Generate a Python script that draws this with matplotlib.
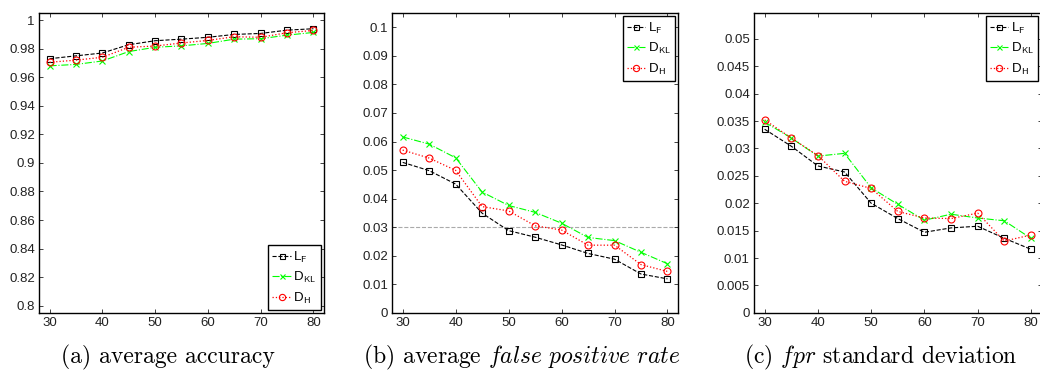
import matplotlib
matplotlib.use('Agg')
import matplotlib.pyplot as plt
from matplotlib.ticker import FuncFormatter

plt.rcParams['font.family'] = ['Liberation Sans', 'DejaVu Sans']
plt.rcParams['mathtext.fontset'] = 'cm'
plt.rcParams['font.size'] = 9

# sample sizes on the x axis
sizes = [30, 35, 40, 45, 50, 55, 60, 65, 70, 75, 80]

# (a) average accuracy
acc_lf = [0.973, 0.975, 0.977, 0.9828, 0.9856, 0.9867, 0.988, 0.990, 0.9907, 0.993, 0.994]
acc_dkl = [0.968, 0.969, 0.9714, 0.978, 0.981, 0.982, 0.9837, 0.9867, 0.987, 0.9895, 0.9914]
acc_dh = [0.9705, 0.972, 0.974, 0.981, 0.9819, 0.984, 0.9858, 0.9884, 0.988, 0.9912, 0.9928]

# (b) average false positive rate
fpr_lf = [0.0527, 0.0498, 0.0451, 0.0349, 0.0288, 0.0265, 0.0238, 0.0208, 0.0188, 0.0136, 0.0119]
fpr_dkl = [0.0616, 0.0591, 0.0543, 0.0423, 0.0376, 0.0352, 0.0314, 0.0264, 0.0253, 0.0212, 0.0172]
fpr_dh = [0.057, 0.0542, 0.0499, 0.0372, 0.0357, 0.0305, 0.029, 0.0237, 0.0237, 0.0169, 0.0145]
fpr_ref = 0.03

# (c) fpr standard deviation
std_lf = [0.0335, 0.0304, 0.0268, 0.0257, 0.0200, 0.0172, 0.0147, 0.0155, 0.0158, 0.0136, 0.0116]
std_dkl = [0.0348, 0.0319, 0.0286, 0.0291, 0.0228, 0.0198, 0.0169, 0.018, 0.0173, 0.0168, 0.0136]
std_dh = [0.0352, 0.0319, 0.0287, 0.024, 0.0227, 0.0185, 0.0173, 0.0172, 0.0182, 0.0131, 0.0142]

labels = [r'L$_\mathsf{F}$', r'D$_\mathsf{KL}$', r'D$_\mathsf{H}$']
captions = [r'(a) average accuracy',
            r'(b) average $\mathit{false\ positive\ rate}$',
            r'(c) $fpr$ standard deviation']


def draw_panel(ax, lf, dkl, dh, ylim, yticks, loc):
    ax.plot(sizes, lf, color='k', linestyle='--', marker='s', markersize=4,
            markerfacecolor='none', markeredgewidth=0.8, linewidth=0.8, label=labels[0])
    ax.plot(sizes, dkl, color='#00ff00', linestyle='-.', marker='x', markersize=4,
            markeredgewidth=0.8, linewidth=0.8, label=labels[1])
    ax.plot(sizes, dh, color='#ff0000', linestyle=':', marker='o', markersize=5,
            markerfacecolor='none', markeredgewidth=0.8, linewidth=0.9, label=labels[2])
    ax.set_xlim(28, 82)
    ax.set_ylim(*ylim)
    ax.set_xticks([30, 40, 50, 60, 70, 80])
    ax.set_yticks(yticks)
    ax.yaxis.set_major_formatter(FuncFormatter(lambda v, p: ('%.4f' % v).rstrip('0').rstrip('.')))
    ax.tick_params(direction='in', top=True, right=True, length=3, width=0.6,
                   labelsize=9.5, pad=3, colors='#222222')
    for s in ax.spines.values():
        s.set_linewidth(1.0)
    leg = ax.legend(loc=loc, fontsize=9.5, handlelength=1.4, handletextpad=0.2,
                    borderaxespad=0.25, borderpad=0.3, labelspacing=0.4,
                    fancybox=False, framealpha=1, markerscale=0.9)
    leg.get_frame().set_edgecolor('k')
    leg.get_frame().set_linewidth(1.0)


fig = plt.figure(figsize=(10.4, 3.72), dpi=100)
ax_a = fig.add_axes([0.0375, 0.159, 0.274, 0.806])
ax_b = fig.add_axes([0.377, 0.159, 0.275, 0.806])
ax_c = fig.add_axes([0.725, 0.159, 0.2765, 0.806])

draw_panel(ax_a, acc_lf, acc_dkl, acc_dh, (0.795, 1.005),
           [0.8 + 0.02 * i for i in range(11)], 'lower right')
ax_b.axhline(fpr_ref, color='#aaaaaa', linestyle='--', linewidth=0.8, zorder=0)
draw_panel(ax_b, fpr_lf, fpr_dkl, fpr_dh, (0, 0.105),
           [0.01 * i for i in range(11)], 'upper right')
draw_panel(ax_c, std_lf, std_dkl, std_dh, (0, 0.0547),
           [0.005 * i for i in range(11)], 'upper right')

for x, cap in zip([0.161, 0.502, 0.847], captions):
    fig.text(x, 0.024, cap, ha='center', va='baseline', fontsize=17, family='cmr10')

fig.savefig('out.png', dpi=100)
